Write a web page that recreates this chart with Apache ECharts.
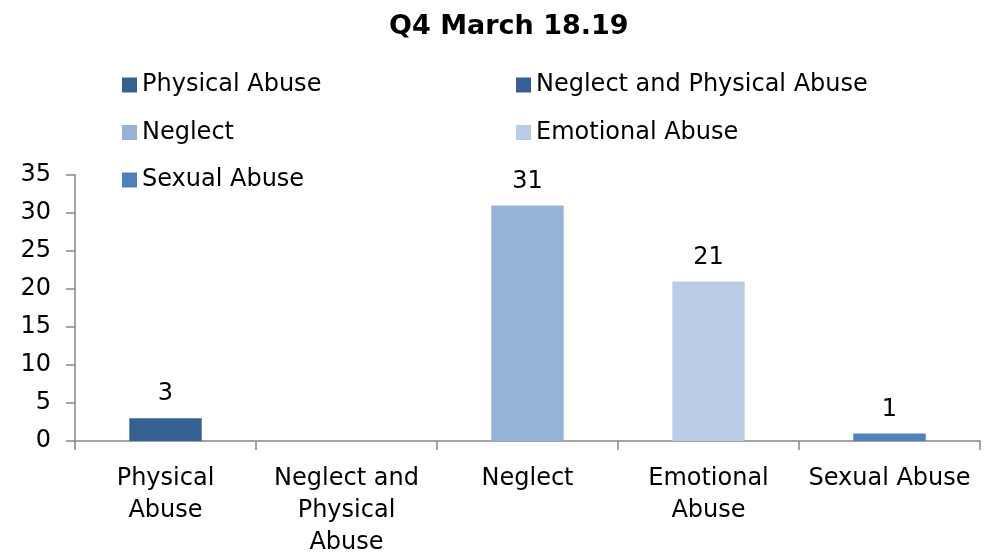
<!DOCTYPE html>
<html>
<head>
<meta charset="utf-8">
<script src="https://cdn.jsdelivr.net/npm/echarts@6/dist/echarts.min.js"></script>
<style>
  html, body { margin: 0; padding: 0; background: #fff; }
  #chart { width: 996px; height: 553px; }
</style>
</head>
<body>
<div id="chart"></div>
<script>
// data
var categories = ['Physical Abuse', 'Neglect and Physical Abuse', 'Neglect', 'Emotional Abuse', 'Sexual Abuse'];
var values = [3, 0, 31, 21, 1];
var colors = ['#376092', '#375F93', '#95B3D7', '#B9CDE5', '#4F81BD'];
var yTicks = [0, 5, 10, 15, 20, 25, 30, 35];

// how the x labels wrap in the picture
var wrapped = {
    'Physical Abuse': 'Physical\nAbuse',
    'Neglect and Physical Abuse': 'Neglect and\nPhysical\nAbuse',
    'Neglect': 'Neglect',
    'Emotional Abuse': 'Emotional\nAbuse',
    'Sexual Abuse': 'Sexual Abuse'
};

var font = 'DejaVu Sans';
var axisColor = '#868686';

var chart = echarts.init(document.getElementById('chart'), null, { renderer: 'canvas' });

// one series per category so the legend gets one entry each
var series = categories.map(function(name, i) {
    return {
        name: name,
        type: 'bar',
        stack: 'one',
        barWidth: '40%',
        itemStyle: { color: colors[i], borderWidth: 0 },
        label: {
            show: true,
            position: 'top',
            distance: 12,
            color: '#000',
            fontFamily: font,
            fontSize: 24,
            formatter: function(p) { return p.value > 0 ? p.value : ''; }
        },
        data: categories.map(function(c, j) { return j === i ? values[i] : '-'; })
    };
});

function legendBox(names, left) {
    return {
        orient: 'vertical',
        left: left,
        top: 68,
        itemWidth: 15,
        itemHeight: 15,
        itemGap: 23.5,
        icon: 'rect',
        data: names,
        textStyle: { color: '#000', fontFamily: font, fontSize: 24, lineHeight: 24 }
    };
}

var option = {
    animation: false,
    title: {
        text: 'Q4 March 18.19',
        left: 384,
        top: 8,
        textStyle: { color: '#000', fontFamily: font, fontSize: 27, fontWeight: 'bold' }
    },
    legend: [
        legendBox([categories[0], categories[2], categories[4]], 117),
        legendBox([categories[1], categories[3]], 511)
    ],
    grid: { left: 75, right: 16, top: 175, bottom: 112, containLabel: false, outerBoundsMode: 'none' },
    xAxis: {
        type: 'category',
        data: categories,
        axisLine: { lineStyle: { color: axisColor, width: 1.5 } },
        axisTick: { show: true, length: 9, lineStyle: { color: axisColor, width: 1.5 } },
        axisLabel: {
            interval: 0,
            margin: 22,
            color: '#000',
            fontFamily: font,
            fontSize: 24,
            lineHeight: 32,
            formatter: function(v) { return wrapped[v]; }
        }
    },
    yAxis: {
        type: 'value',
        min: yTicks[0],
        max: yTicks[yTicks.length - 1],
        interval: 5,
        splitLine: { show: false },
        axisLine: { show: true, lineStyle: { color: axisColor, width: 1.5 } },
        axisTick: { show: true, length: 9, lineStyle: { color: axisColor, width: 1.5 } },
        axisLabel: { margin: 24, color: '#000', fontFamily: font, fontSize: 24 }
    },
    series: series
};

chart.setOption(option);
</script>
</body>
</html>
